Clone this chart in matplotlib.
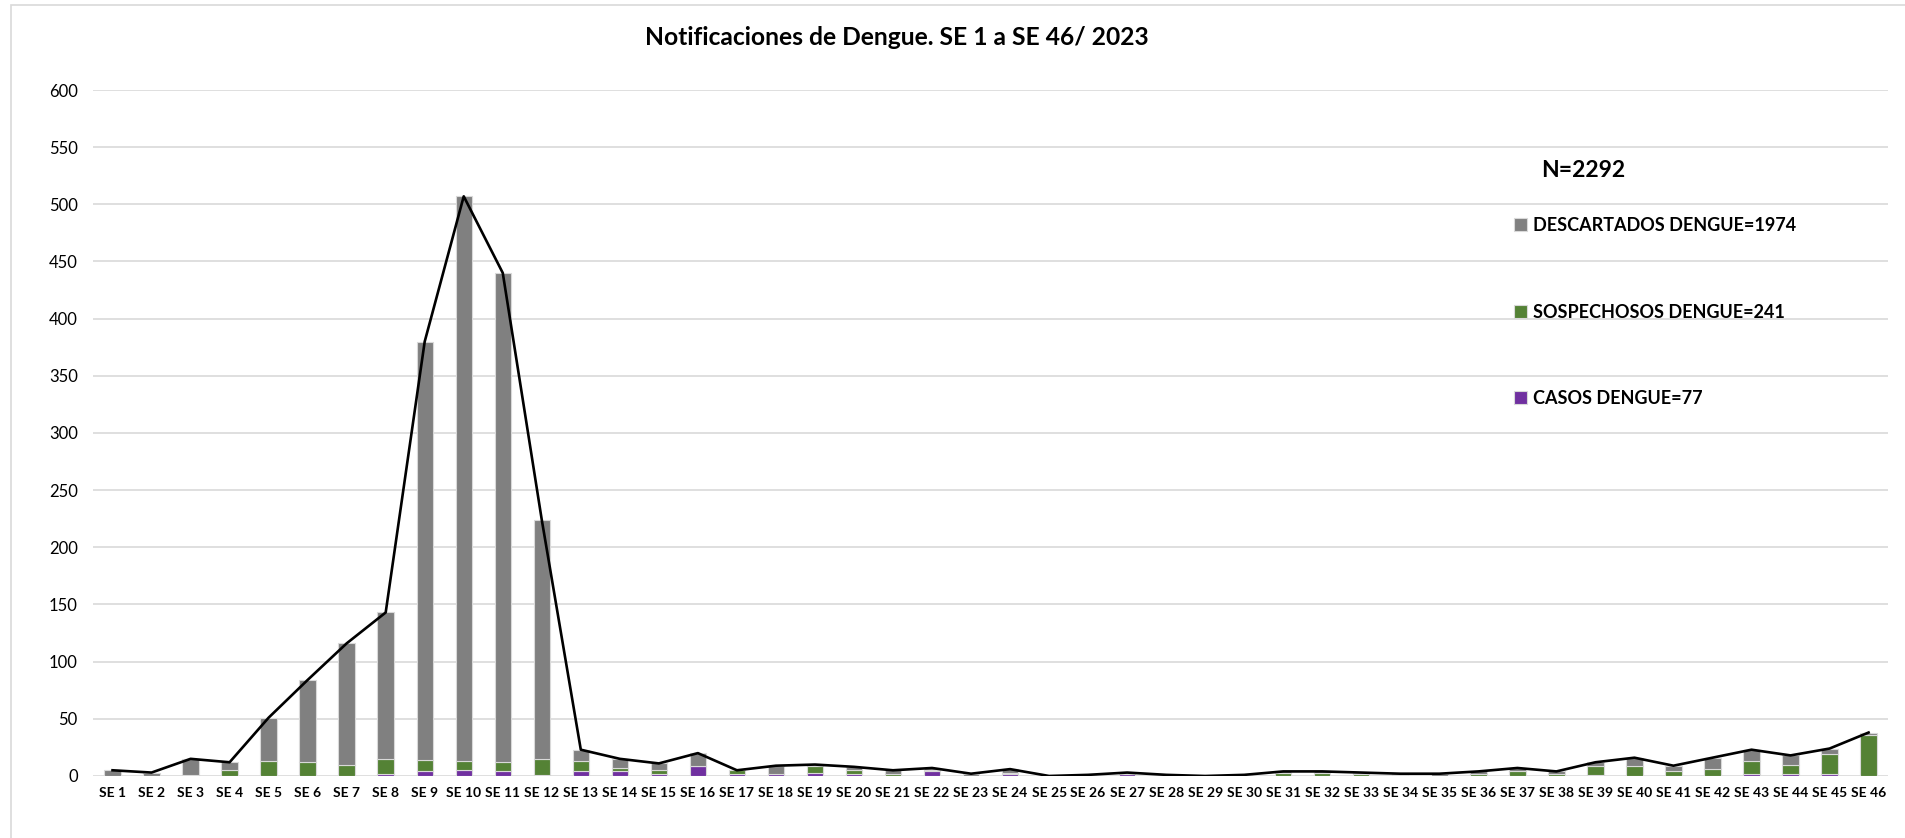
import numpy as np
import matplotlib.pyplot as plt
from matplotlib.patches import Rectangle

plt.rcParams["font.family"] = ["Lato", "DejaVu Sans"]

# semanas epidemiologicas
semanas = [f"SE {i}" for i in range(1, 47)]

casos = [0, 0, 1, 0, 0, 0, 0, 2, 4, 5, 4, 1, 4, 4, 2, 9, 2, 2, 3, 2,
         0, 4, 0, 2, 0, 0, 2, 0, 0, 0, 0, 0, 0, 0, 0, 0, 0, 0, 1, 0,
         0, 0, 2, 2, 2, 0]
sospechosos = [0, 0, 0, 5, 13, 12, 10, 13, 10, 8, 8, 14, 9, 3, 3, 0, 3, 0, 6, 3,
               2, 1, 0, 1, 0, 0, 0, 0, 0, 0, 3, 3, 2, 1, 0, 2, 4, 2, 8, 9,
               4, 6, 11, 8, 17, 36]
descartados = [5, 3, 14, 7, 38, 72, 106, 128, 366, 494, 428, 209, 10, 8, 6, 11, 0, 7, 1, 3,
               3, 2, 2, 3, 0, 1, 1, 1, 0, 1, 1, 1, 1, 1, 2, 2, 3, 2, 3, 7,
               5, 10, 10, 8, 5, 2]

etiquetas = ["CASOS DENGUE=77", "SOSPECHOSOS DENGUE=241", "DESCARTADOS DENGUE=1974"]
colores = ["#7030A0", "#548235", "#808080"]

casos = np.array(casos)
sospechosos = np.array(sospechosos)
descartados = np.array(descartados)
total = casos + sospechosos + descartados

fig = plt.figure(figsize=(19.06, 8.38), dpi=100)
ax = fig.add_axes([0.0488, 0.074, 0.9418, 0.8186])

x = np.arange(len(semanas))
w = 0.42
b1 = ax.bar(x, casos, w, color=colores[0], edgecolor="#d9d9d9", linewidth=0.8, zorder=2)
b2 = ax.bar(x, sospechosos, w, bottom=casos, color=colores[1], edgecolor="#d9d9d9",
            linewidth=0.8, zorder=2)
b3 = ax.bar(x, descartados, w, bottom=casos + sospechosos, color=colores[2],
            edgecolor="#d9d9d9", linewidth=0.8, zorder=2)
ax.plot(x, total, color="black", linewidth=1.9, zorder=3)

ax.set_xlim(-0.5, len(semanas) - 0.5)
ax.set_ylim(0, 600)
ax.set_yticks(np.arange(0, 601, 50))
ax.set_xticks(x)
ax.set_xticklabels(semanas, fontsize=10, fontweight="bold")
ax.tick_params(axis="both", length=0)
ax.tick_params(axis="y", labelsize=12, pad=11)
ax.tick_params(axis="x", pad=8)
ax.grid(axis="y", color="#d9d9d9", linewidth=1.2, zorder=0)
ax.set_axisbelow(True)
for s in ax.spines.values():
    s.set_visible(False)

fig.text(0.4706, 0.955, "Notificaciones de Dengue. SE 1 a SE 46/ 2023",
         ha="center", va="center", fontsize=17.7, fontweight="bold")
fig.text(0.8088, 0.797, "N=2292", ha="left", va="center", fontsize=16.5, fontweight="bold")

leg = ax.legend([b3, b2, b1], etiquetas[::-1], loc="upper left",
                bbox_to_anchor=(0.7945, 0.741), bbox_transform=fig.transFigure,
                frameon=False, handlelength=0.7, handleheight=0.7, handletextpad=0.35,
                labelspacing=3.85, borderaxespad=0, borderpad=0,
                prop={"size": 13, "weight": "bold"})

# marco exterior del grafico
fig.patches.append(Rectangle((11 / 1906, -0.05), 1.05, 1 - 5 / 838 + 0.05,
                             transform=fig.transFigure, fill=False,
                             edgecolor="#d9d9d9", linewidth=1.2))

fig.savefig("out.png", dpi=100)
